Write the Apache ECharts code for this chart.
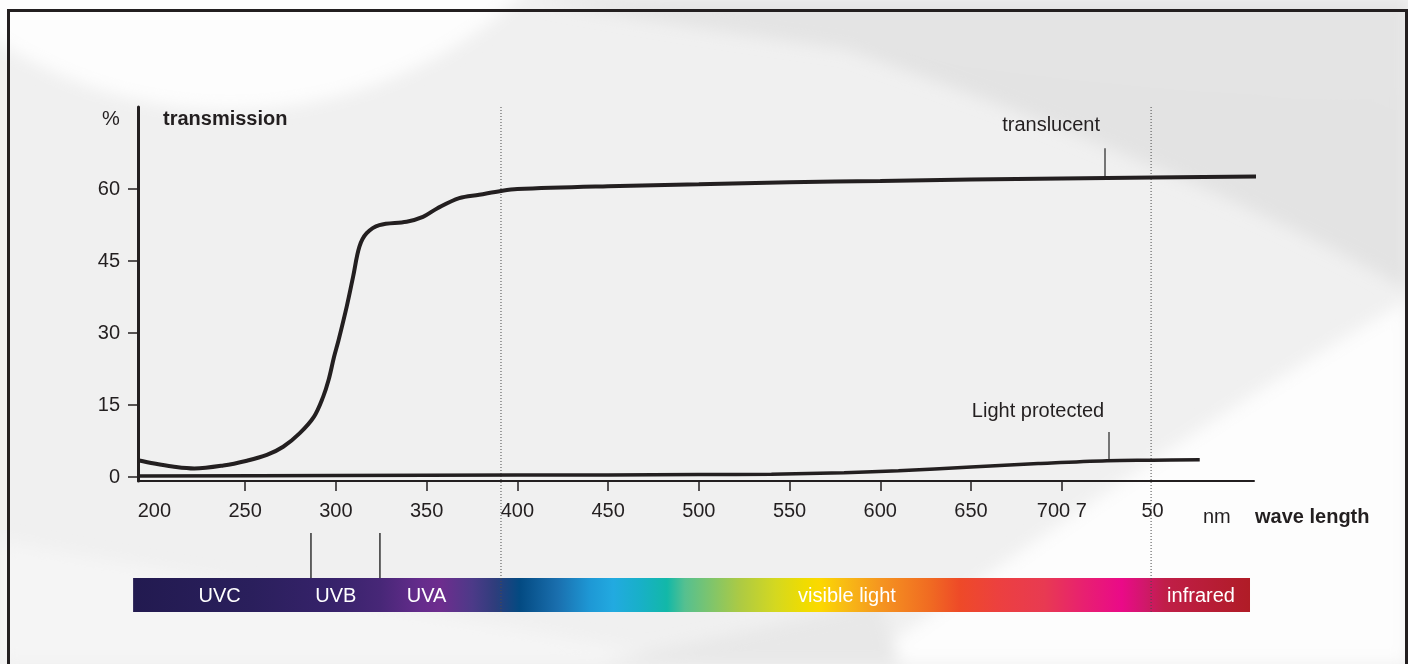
<!DOCTYPE html>
<html><head><meta charset="utf-8">
<script src="https://cdn.jsdelivr.net/npm/echarts@6/dist/echarts.min.js"></script>
<style>
html,body{margin:0;padding:0;width:1408px;height:664px;overflow:hidden;background:#fff;}
#bg{position:absolute;left:0;top:0;width:1408px;height:664px;}
#frame{position:absolute;left:7px;top:9px;width:1401px;height:720px;border:3px solid #231f20;border-bottom:none;box-sizing:border-box;}
#chart{position:absolute;left:0;top:0;width:1408px;height:664px;}
</style></head>
<body>
<svg id="bg" width="1408" height="664" xmlns="http://www.w3.org/2000/svg">
<defs>
<filter id="blur" x="-20%" y="-20%" width="140%" height="140%"><feGaussianBlur stdDeviation="8"/></filter>
</defs>
<rect width="1408" height="664" fill="#f0f0f0"/>
<g filter="url(#blur)">
<path d="M540,0 C800,50 1150,90 1408,100 L1408,0 Z" fill="#e4e4e4"/>
<path d="M820,40 C1050,120 1250,200 1408,290 L1408,100 C1200,90 1000,70 820,40 Z" fill="#e3e3e3"/>
<ellipse cx="230" cy="-300" rx="420" ry="410" fill="#fdfdfd"/>
<path d="M860,664 C1010,560 1200,420 1408,300 L1408,664 Z" fill="#fdfdfd"/>
<path d="M0,540 C250,590 500,620 700,664 L0,664 Z" fill="#f5f5f5"/>
<path d="M600,664 C700,640 780,625 880,600 L900,664 Z" fill="#e8e8e8"/>
</g>
</svg>
<div id="frame"></div>
<div id="chart"></div>
<script>
// ---- data ----
const wavelengthLabels = [200, 250, 300, 350, 400, 450, 500, 550, 600, 650, 700, 750];
const wavelengthTicks = [250, 300, 350, 400, 450, 500, 550, 600, 650, 700];
const labelText = {700: '700 7', 750: '50'};
const yTicks = [0, 15, 30, 45, 60];
const translucent = [
  [191, 3.5], [200, 2.8], [210, 2.2], [222, 1.8], [238, 2.4], [251, 3.4], [262, 4.6],
  [271, 6.3], [280, 9.1], [288, 12.6], [293, 16.7], [296, 20.2], [299, 25], [301.5, 28.5],
  [306, 35.5], [309.5, 41.7], [313, 48], [317, 50.8], [324, 52.5], [339, 53.2], [348, 54.2],
  [356, 56], [368, 58.1], [379, 58.8], [391, 59.6], [400, 60], [450, 60.6], [500, 61],
  [550, 61.4], [600, 61.7], [650, 62], [700, 62.2], [750, 62.4], [822, 62.7]
];
const lightProtected = [
  [191, 0.2], [300, 0.3], [400, 0.4], [500, 0.5], [540, 0.6], [580, 0.9], [610, 1.3],
  [650, 2.1], [687, 2.8], [725, 3.4], [750, 3.5], [776, 3.6]
];
const dividerNm = [391, 749.2];
const uvBoundaryNm = [286.3, 324.3];
const bandNames = ['UVC', 'UVB', 'UVA', 'visible light', 'infrared'];
const bandCenters = [236, 300, 350, 581.6, 776.7];
const spectrumRange = [188.3, 803.7];
const seriesNames = ['translucent', 'Light protected'];
const nameAnchors = [[694.1, 73.3], [686.9, 13.75]];
const pointerLines = [[723.4, 62.3, 68.5], [726.1, 3.4, 9.4]];

// ---- chart ----
const XMIN = 191.0, XMAX = 805.9, YMIN = -0.83, YMAX = 77.1;
const INK = '#231f20';
const FONT = '"Liberation Sans", Arial, sans-serif';
const chart = echarts.init(document.getElementById('chart'), null, {renderer: 'canvas'});

function hiddenX(i) { return {type: 'value', gridIndex: i, min: XMIN, max: XMAX, show: false}; }
function hiddenY(i) { return {type: 'value', gridIndex: i, min: 0, max: 1, show: false}; }

const stops = [
  [0, '#221a50'], [0.105, '#2a1f5c'], [0.176, '#36226a'], [0.221, '#472777'], [0.257, '#652c8c'],
  [0.275, '#6e2d8e'], [0.304, '#4c3a88'], [0.324, '#2f3d7c'], [0.346, '#034a82'], [0.380, '#1a6fae'],
  [0.409, '#1e98d5'], [0.430, '#22aae0'], [0.454, '#18b0c8'], [0.478, '#12b8a8'], [0.494, '#55c090'],
  [0.543, '#acca44'], [0.575, '#d4d820'], [0.602, '#f0dc00'], [0.615, '#fcd800'], [0.637, '#f8bc14'],
  [0.669, '#f59520'], [0.714, '#f06a22'], [0.740, '#ee4a28'], [0.776, '#ec4040'], [0.816, '#e83a52'],
  [0.851, '#e82070'], [0.885, '#ea0a88'], [0.906, '#d0186a'], [0.924, '#c01e48'], [1, '#b01c26']
].map(s => ({offset: s[0], color: s[1]}));

const option = {
  animation: false,
  backgroundColor: 'transparent',
  textStyle: {fontFamily: FONT},
  grid: [
    {left: 138, top: 107, width: 1116, height: 374},
    {left: 138, top: 578, width: 1116, height: 34},
    {left: 138, top: 107, width: 1116, height: 505},
    {left: 138, top: 533, width: 1116, height: 45}
  ],
  xAxis: [
    {
      type: 'value', gridIndex: 0, min: XMIN, max: XMAX,
      axisLine: {show: true, onZero: false, lineStyle: {color: INK, width: 2}},
      axisTick: {show: true, customValues: wavelengthTicks, length: 10, lineStyle: {color: INK, width: 1.5}},
      axisLabel: {
        customValues: wavelengthLabels, formatter: v => labelText[v] || String(v),
        color: INK, fontSize: 20, margin: 20, fontFamily: FONT
      },
      splitLine: {show: false}
    },
    hiddenX(1), hiddenX(2), hiddenX(3)
  ],
  yAxis: [
    {
      type: 'value', gridIndex: 0, min: YMIN, max: YMAX,
      axisLine: {show: true, onZero: false, lineStyle: {color: INK, width: 3}},
      axisTick: {show: true, customValues: yTicks, length: 10, lineStyle: {color: INK, width: 1.5}},
      axisLabel: {customValues: yTicks, color: INK, fontSize: 20, margin: 18, fontFamily: FONT},
      splitLine: {show: false}
    },
    hiddenY(1), hiddenY(2), hiddenY(3)
  ],
  graphic: [
    {type: 'text', left: 102, top: 109, style: {text: '%', fill: INK, font: '20px ' + FONT}},
    {type: 'text', left: 163, top: 109, style: {text: 'transmission', fill: INK, font: 'bold 20px ' + FONT}},
    {type: 'text', left: 1203, top: 507, style: {text: 'nm', fill: INK, font: '20px ' + FONT}},
    {type: 'text', left: 1255, top: 507, style: {text: 'wave length', fill: INK, font: 'bold 20px ' + FONT}}
  ],
  series: [
    {
      type: 'custom', xAxisIndex: 1, yAxisIndex: 1, clip: false, z: 1,
      data: [spectrumRange],
      renderItem: (params, api) => {
        const a = api.coord([api.value(0), 0]);
        const b = api.coord([api.value(1), 1]);
        return {
          type: 'rect',
          shape: {x: a[0], y: b[1], width: b[0] - a[0], height: a[1] - b[1]},
          style: {fill: new echarts.graphic.LinearGradient(0, 0, 1, 0, stops)}
        };
      }
    },
    {
      type: 'custom', xAxisIndex: 1, yAxisIndex: 1, clip: false, z: 3,
      data: bandCenters.map(v => [v, 0.5]),
      renderItem: (params, api) => {
        const p = api.coord([api.value(0), api.value(1)]);
        return {
          type: 'text', x: p[0], y: p[1] + 1,
          style: {text: bandNames[params.dataIndex], fill: '#ffffff', fontSize: 20, fontFamily: FONT, align: 'center', verticalAlign: 'middle'}
        };
      }
    },
    {
      type: 'custom', xAxisIndex: 2, yAxisIndex: 2, clip: false, z: 4,
      data: dividerNm.map(v => [v]),
      renderItem: (params, api) => {
        const a = api.coord([api.value(0), 0]);
        const b = api.coord([api.value(0), 1]);
        return {
          type: 'line', shape: {x1: a[0], y1: a[1], x2: b[0], y2: b[1]},
          style: {stroke: '#4a4a4a', lineWidth: 1, lineDash: [1, 2]}
        };
      }
    },
    {
      type: 'custom', xAxisIndex: 3, yAxisIndex: 3, clip: false, z: 4,
      data: uvBoundaryNm.map(v => [v]),
      renderItem: (params, api) => {
        const a = api.coord([api.value(0), 0]);
        const b = api.coord([api.value(0), 1]);
        return {
          type: 'line', shape: {x1: a[0], y1: a[1], x2: b[0], y2: b[1]},
          style: {stroke: '#333333', lineWidth: 1.5}
        };
      }
    },
    {
      name: seriesNames[0], type: 'line', xAxisIndex: 0, yAxisIndex: 0, z: 5,
      data: translucent, smooth: 0.35, showSymbol: false, clip: false,
      lineStyle: {color: INK, width: 4},
      markLine: {
        silent: true, symbol: ['none', 'none'], label: {show: false},
        lineStyle: {color: '#4d4d4d', width: 1.5, type: 'solid'},
        data: [[{coord: [pointerLines[0][0], pointerLines[0][1]]}, {coord: [pointerLines[0][0], pointerLines[0][2]]}]]
      },
      markPoint: {
        silent: true, symbol: 'circle', symbolSize: 0,
        label: {show: true, position: 'inside', formatter: () => seriesNames[0], color: INK, fontSize: 20, fontFamily: FONT},
        data: [{coord: nameAnchors[0]}]
      }
    },
    {
      name: seriesNames[1], type: 'line', xAxisIndex: 0, yAxisIndex: 0, z: 5,
      data: lightProtected, smooth: 0.35, showSymbol: false, clip: false,
      lineStyle: {color: INK, width: 3.5},
      markLine: {
        silent: true, symbol: ['none', 'none'], label: {show: false},
        lineStyle: {color: '#4d4d4d', width: 1.5, type: 'solid'},
        data: [[{coord: [pointerLines[1][0], pointerLines[1][1]]}, {coord: [pointerLines[1][0], pointerLines[1][2]]}]]
      },
      markPoint: {
        silent: true, symbol: 'circle', symbolSize: 0,
        label: {show: true, position: 'inside', formatter: () => seriesNames[1], color: INK, fontSize: 20, fontFamily: FONT},
        data: [{coord: nameAnchors[1]}]
      }
    }
  ]
};
chart.setOption(option);
</script>
</body></html>
